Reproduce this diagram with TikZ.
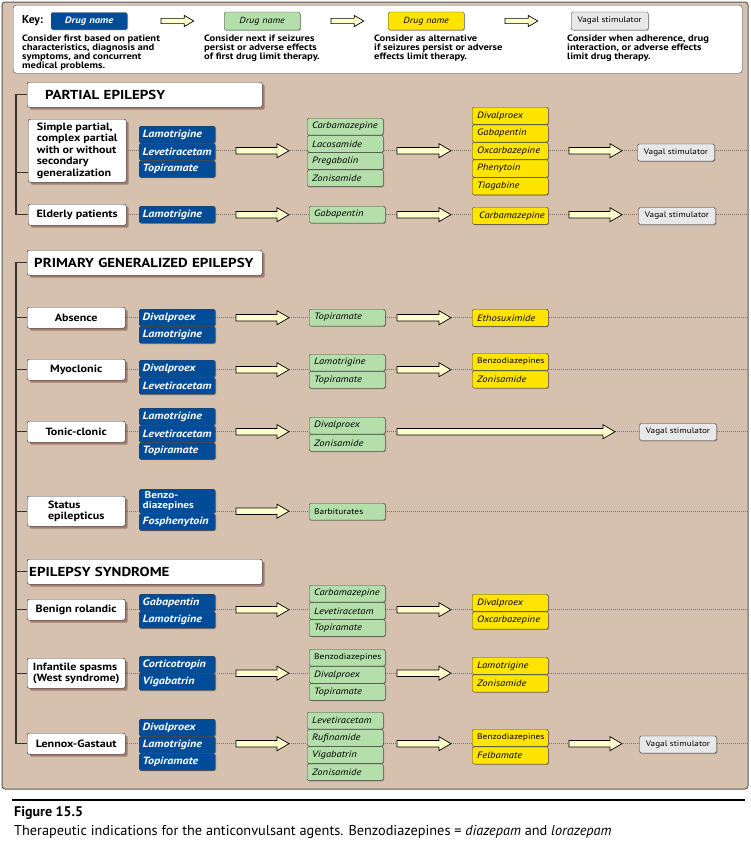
\documentclass[tikz,border=0pt]{standalone}
\usepackage{fontspec}
\setmainfont{PT Sans}[FakeStretch=1.15]
\newfontfamily\capfont{PT Sans}
\usetikzlibrary{positioning,shadows}
\pgfdeclarelayer{background}
\pgfsetlayers{background,main}
\definecolor{panelbrown}{RGB}{214,192,174}
\definecolor{drugblue}{RGB}{0,76,152}
\definecolor{druggreen}{RGB}{180,222,170}
\definecolor{drugyellow}{RGB}{255,228,0}
\definecolor{vagalgray}{RGB}{232,232,232}
\definecolor{arrowfill}{RGB}{255,255,204}
\definecolor{shadowbrown}{RGB}{100,45,35}
\definecolor{treegray}{RGB}{55,50,50}

\begin{document}
\begin{tikzpicture}[x=1pt,y=-1pt,node distance=0pt]
\tikzset{
  drug/.style={draw=black!75, rounded corners=1.5pt, inner ysep=0pt, minimum height=16.8pt, align=left, anchor=north west,
    drop shadow={shadow xshift=0.8pt, shadow yshift=-0.8pt, fill=black, opacity=0.3}},
  bluedrug/.style={drug, fill=drugblue, text=white, text width=69pt, inner xsep=3.5pt, font=\bfseries\itshape\fontsize{10.5}{10}\selectfont},
  greendrug/.style={drug, fill=druggreen, text width=66pt, inner xsep=5pt, font=\itshape\fontsize{9.2}{10}\selectfont},
  yellowdrug/.style={drug, fill=drugyellow, text width=66pt, inner xsep=5pt, minimum height=17.2pt, font=\itshape\fontsize{9.2}{10}\selectfont},
  classname/.style={font=\fontsize{8.2}{10}\selectfont},
  vagalbox/.style={draw=black!75, fill=vagalgray, rounded corners=1.5pt, minimum width=77pt, minimum height=17pt, inner sep=0pt,
    font=\fontsize{8}{10}\selectfont, drop shadow={shadow xshift=0.8pt, shadow yshift=-0.8pt, fill=black, opacity=0.3}},
  rowbox/.style={draw=black!85, fill=white, rounded corners=2pt, minimum width=98pt, minimum height=21pt, inner sep=1pt,
    anchor=north west, font=\bfseries\fontsize{10.5}{11.5}\selectfont,
    drop shadow={shadow xshift=2.5pt, shadow yshift=-2.5pt, fill=shadowbrown, opacity=0.45}},
  headbox/.style={rowbox, minimum width=235pt, minimum height=25pt, text width=231pt, inner xsep=2pt, align=left,
    font=\bfseries\fontsize{13}{15}\selectfont},
  keytext/.style={anchor=north west, align=left, inner sep=0pt, font=\bfseries\fontsize{9.2}{8.8}\selectfont},
  tree/.style={draw=treegray, line width=1.4pt},
  dots/.style={draw=black!55, line width=0.5pt, dash pattern=on 1pt off 1pt},
  pics/bigarrow/.style={code={\draw[fill=arrowfill, line width=0.7pt, line join=miter]
    (0,-3.3) -- (#1-12,-3.3) -- (#1-12,-7) -- (#1,0) -- (#1-12,7) -- (#1-12,3.3) -- (0,3.3) -- cycle;}}
}
\useasboundingbox (0,0) rectangle (751,846);

% key
\node[draw=black!70, fill=white, rounded corners=3pt, minimum width=729pt, minimum height=68pt, anchor=north west] (key) at (13,5) {};
\node[anchor=west, inner sep=0pt, font=\capfont\bfseries\fontsize{11.5}{13}\selectfont] (keylabel) at (22,21) {Key:};
\node[bluedrug, anchor=west, minimum width=76pt, minimum height=17pt, align=center, font=\bfseries\itshape\fontsize{9.3}{10}\selectfont] (keyblue) at (51,21) {Drug name};
\pic[scale=0.8] at (161,21) {bigarrow=41};
\node[greendrug, anchor=west, minimum height=18pt, align=center, font=\itshape\fontsize{8.8}{10}\selectfont] (keygreen) at (224,21) {Drug name};
\pic[scale=0.8] at (331,21) {bigarrow=41};
\node[yellowdrug, anchor=west, minimum height=18pt, align=center, font=\itshape\fontsize{8.8}{10}\selectfont] (keyyellow) at (388,21) {Drug name};
\pic[scale=0.8] at (505,21) {bigarrow=41};
\node[vagalbox, anchor=west, minimum height=18pt] (keygray) at (571,21) {Vagal stimulator};
\node[keytext] (keyfirst) at (22,35) {Consider first based on patient\\characteristics, diagnosis and\\symptoms,  and concurrent\\medical problems.};
\node[keytext] (keynext) at (204,35) {Consider next if seizures\\persist or adverse effects\\of first drug limit therapy.};
\node[keytext] (keyalt) at (374,35) {Consider as alternative\\if seizures persist or adverse\\effects  limit therapy.};
\node[keytext] (keylast) at (567,35) {Consider when adherence, drug\\interaction, or adverse effects\\limit drug therapy.};

% partial epilepsy
\node[headbox] (partial) at (27,82) {\hspace*{16pt}PARTIAL EPILEPSY};
\node[rowbox, minimum height=63pt, align=left] (simple) at (28,119) {Simple partial,\\complex partial\\with or without\\secondary\\generalization};
\node[bluedrug] (spLam) at (139,126) {Lamotrigine};
\node[bluedrug, below=of spLam] (spLev) {Levetiracetam};
\node[bluedrug, below=of spLev] (spTop) {Topiramate};
\node[greendrug] (spCarb) at (307,118) {Carbamazepine};
\node[greendrug, below=of spCarb] (spLaco) {Lacosamide};
\node[greendrug, below=of spLaco] (spPreg) {Pregabalin};
\node[greendrug, below=of spPreg] (spZon) {Zonisamide};
\node[yellowdrug] (spDiv) at (472,107) {Divalproex};
\node[yellowdrug, below=of spDiv] (spGaba) {Gabapentin};
\node[yellowdrug, below=of spGaba] (spOxc) {Oxcarbazepine};
\node[yellowdrug, below=of spOxc] (spPhen) {Phenytoin};
\node[yellowdrug, below=of spPhen] (spTiag) {Tiagabine};
\node[vagalbox] (spVagal) at (676,152.5) {Vagal stimulator};

\node[rowbox] (elderly) at (28,204) {Elderly patients};
\node[bluedrug] (elLam) at (139,206) {Lamotrigine};
\node[greendrug] (elGaba) at (309,206) {Gabapentin};
\node[yellowdrug, inner xsep=7pt, text width=62pt] (elCarb) at (472,207) {Carbamazepine};
\node[vagalbox] (elVagal) at (677,216) {Vagal stimulator};

% primary generalized epilepsy
\node[headbox] (primary) at (27,250) {\hspace*{5pt}PRIMARY GENERALIZED EPILEPSY};
\node[rowbox] (absence) at (27,307) {Absence};
\node[bluedrug] (abDiv) at (139,309) {Divalproex};
\node[bluedrug, below=of abDiv] (abLam) {Lamotrigine};
\node[greendrug] (abTop) at (309,309) {Topiramate};
\node[yellowdrug] (abEtho) at (472,309) {Ethosuximide};

\node[rowbox] (myoclonic) at (27,359) {Myoclonic};
\node[bluedrug] (myDiv) at (139,360) {Divalproex};
\node[bluedrug, below=of myDiv] (myLev) {Levetiracetam};
\node[greendrug] (myLam) at (309,354) {Lamotrigine};
\node[greendrug, below=of myLam] (myTop) {Topiramate};
\node[yellowdrug, classname] (myBenzo) at (472,353) {Benzodiazepines};
\node[yellowdrug, below=of myBenzo] (myZon) {Zonisamide};

\node[rowbox] (tonic) at (27,421) {Tonic-clonic};
\node[bluedrug] (tcLam) at (139,408) {Lamotrigine};
\node[bluedrug, below=of tcLam] (tcLev) {Levetiracetam};
\node[bluedrug, below=of tcLev] (tcTop) {Topiramate};
\node[greendrug] (tcDiv) at (309,417) {Divalproex};
\node[greendrug, below=of tcDiv] (tcZon) {Zonisamide};
\node[vagalbox] (tcVagal) at (678,432) {Vagal stimulator};

\node[rowbox, minimum height=30pt, align=left] (status) at (27,496) {Status\\epilepticus};
\node[bluedrug, minimum height=24pt, font=\bfseries\fontsize{9.8}{9.5}\selectfont] (stBenzo) at (139,489) {\hspace*{2pt}Benzo-\\diazepines};
\node[bluedrug, below=of stBenzo] (stFos) {Fosphenytoin};
\node[greendrug, classname] (stBarb) at (309,503) {Barbiturates};

% epilepsy syndrome
\node[headbox] (syndrome) at (27,559) {EPILEPSY SYNDROME};
\node[rowbox] (benign) at (27,599) {Benign rolandic};
\node[bluedrug] (brGaba) at (139,594) {Gabapentin};
\node[bluedrug, below=of brGaba] (brLam) {Lamotrigine};
\node[greendrug] (brCarb) at (309,585) {Carbamazepine};
\node[greendrug, below=of brCarb] (brLev) {Levetiracetam};
\node[greendrug, below=of brLev] (brTop) {Topiramate};
\node[yellowdrug] (brDiv) at (472,594) {Divalproex};
\node[yellowdrug, below=of brDiv] (brOxc) {Oxcarbazepine};

\node[rowbox, minimum height=30pt, align=left] (infantile) at (27,658) {Infantile spasms\\(West syndrome)};
\node[bluedrug] (isCort) at (139,656) {Corticotropin};
\node[bluedrug, below=of isCort] (isVig) {Vigabatrin};
\node[greendrug, classname] (isBenzo) at (309,649) {Benzodiazepines};
\node[greendrug, below=of isBenzo] (isDiv) {Divalproex};
\node[greendrug, below=of isDiv] (isTop) {Topiramate};
\node[yellowdrug] (isLam) at (472,657) {Lamotrigine};
\node[yellowdrug, below=of isLam] (isZon) {Zonisamide};

\node[rowbox] (lennox) at (27,733) {Lennox-Gastaut};
\node[bluedrug] (lgDiv) at (139,719) {Divalproex};
\node[bluedrug, below=of lgDiv] (lgLam) {Lamotrigine};
\node[bluedrug, below=of lgLam] (lgTop) {Topiramate};
\node[greendrug] (lgLev) at (307,712) {Levetiracetam};
\node[greendrug, below=of lgLev] (lgRuf) {Rufinamide};
\node[greendrug, below=of lgRuf] (lgVig) {Vigabatrin};
\node[greendrug, below=of lgVig] (lgZon) {Zonisamide};
\node[yellowdrug, classname] (lgBenzo) at (472,729) {Benzodiazepines};
\node[yellowdrug, below=of lgBenzo] (lgFelb) {Felbamate};
\node[vagalbox] (lgVagal) at (678,744.5) {Vagal stimulator};

% block arrows between the columns
\coordinate (colA) at (236,0);
\coordinate (colB) at (397,0);
\coordinate (colC) at (569,0);
\foreach \row in {simple,elderly,absence,myoclonic,tonic,status,benign,infantile,lennox}
  \pic at (\row.east -| colA) {bigarrow=53};
\foreach \row in {simple,elderly,absence,myoclonic,benign,infantile,lennox}
  \pic at (\row.east -| colB) {bigarrow=54};
\foreach \row in {simple,elderly,lennox}
  \pic at (\row.east -| colC) {bigarrow=53};
\pic at (tonic.east -| colB) {bigarrow=218};

% tree
\draw[tree] (partial.west) -- ++(-11,0) |- (elderly.west);
\draw[tree] ([yshift=-22pt]simple.west) -- ++(-12,0);
\draw[tree] (primary.west) -- ++(-11,0) |- (lennox.west);
\foreach \row in {absence,myoclonic,tonic,status,syndrome,benign,infantile}
  \draw[tree] (\row.west) -- ++(-11,0);

% caption
\draw[line width=1.5pt] (12,800) -- (745,800);
\node[anchor=west, inner sep=0pt, font=\capfont\bfseries\fontsize{14}{16}\selectfont] (figlabel) at (14,813) {Figure 15.5};
\node[anchor=west, inner sep=0pt, font=\capfont\fontsize{14.3}{16}\selectfont] (caption) at (14,832)
  {Therapeutic indications for the anticonvulsant agents. Benzodiazepines = \textit{diazepam} and \textit{lorazepam}};

\begin{pgfonlayer}{background}
  \fill[white] (0,0) rectangle (751,846);
  \draw[fill=panelbrown, draw=black!65, line width=1pt, rounded corners=3pt] (2,2) rectangle (748,789);
  \coordinate (rim) at (748,0);
  \foreach \row in {simple,elderly,absence,myoclonic,tonic,status,benign,infantile,lennox}
    \draw[dots] (\row.east) -- (\row.east -| rim);
\end{pgfonlayer}
\end{tikzpicture}
\end{document}
